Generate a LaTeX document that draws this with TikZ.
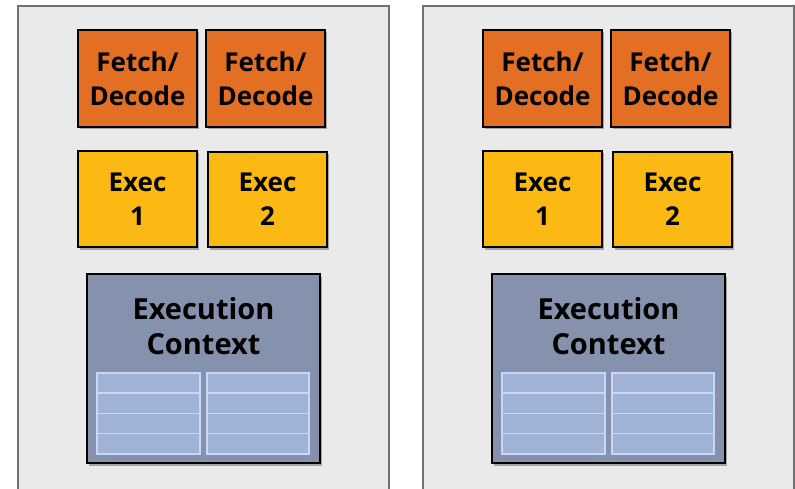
\documentclass[tikz,border=0pt]{standalone}
\usepackage{fontspec}
\setmainfont{Open Sans}
\usetikzlibrary{shadows}
\definecolor{panelbg}{HTML}{EAEAEA}
\definecolor{panelln}{HTML}{707070}
\definecolor{fdorange}{HTML}{E36F24}
\definecolor{exyellow}{HTML}{FDB913}
\definecolor{ecblue}{HTML}{8591AD}
\definecolor{regfill}{HTML}{A0B2D6}
\definecolor{regline}{HTML}{C8D6F8}
\tikzset{
  panel/.style={draw=panelln, fill=panelbg, line width=1.8pt},
  unitbox/.style={draw=black, line width=1.6pt, inner sep=0pt, align=center,
    font=\fontsize{26}{34}\selectfont\bfseries,
    drop shadow={shadow xshift=2pt, shadow yshift=-2.5pt, opacity=0.3, fill=black}},
  fdbox/.style={unitbox, fill=fdorange},
  exbox/.style={unitbox, fill=exyellow},
  ecbox/.style={unitbox, fill=ecblue},
  ectext/.style={align=center, inner sep=0pt, font=\fontsize{29}{35}\selectfont\bfseries},
  regcell/.style={draw=regline, fill=regfill, line width=1.5pt, inner sep=0pt}
}
\begin{document}
\begin{tikzpicture}[x=1pt,y=-1pt]
\useasboundingbox (0,0) rectangle (795,489);
\foreach \c/\dx in {L/0,R/405}{
  \begin{scope}[xshift=\dx pt]
    \draw[panel] (18,6) rectangle (389,500);
    \node[fdbox, minimum width=119pt, minimum height=97pt] (fd1\c) at (137.5,78.5) {Fetch/\\Decode};
    \node[fdbox, minimum width=119pt, minimum height=97pt] (fd2\c) at (265.5,78.5) {Fetch/\\Decode};
    \node[exbox, minimum width=119pt, minimum height=96pt] (ex1\c) at (137.5,199) {Exec\\1};
    \node[exbox, minimum width=119pt, minimum height=95pt] (ex2\c) at (267.5,199.5) {Exec\\2};
    \node[ecbox, minimum width=233pt, minimum height=189pt] (ec\c) at (203.5,368.5) {};
    \node[ectext, anchor=north] (ect\c) at (203.5,297) {Execution\\Context};
    \foreach \r in {0,1,2,3}{
      \node[regcell, minimum width=103pt, minimum height=20.25pt] (ra\c\r) at (148.5,383.1+20.25*\r) {};
      \node[regcell, minimum width=102pt, minimum height=20.25pt] (rb\c\r) at (258,383.1+20.25*\r) {};
    }
  \end{scope}
}
\end{tikzpicture}
\end{document}
